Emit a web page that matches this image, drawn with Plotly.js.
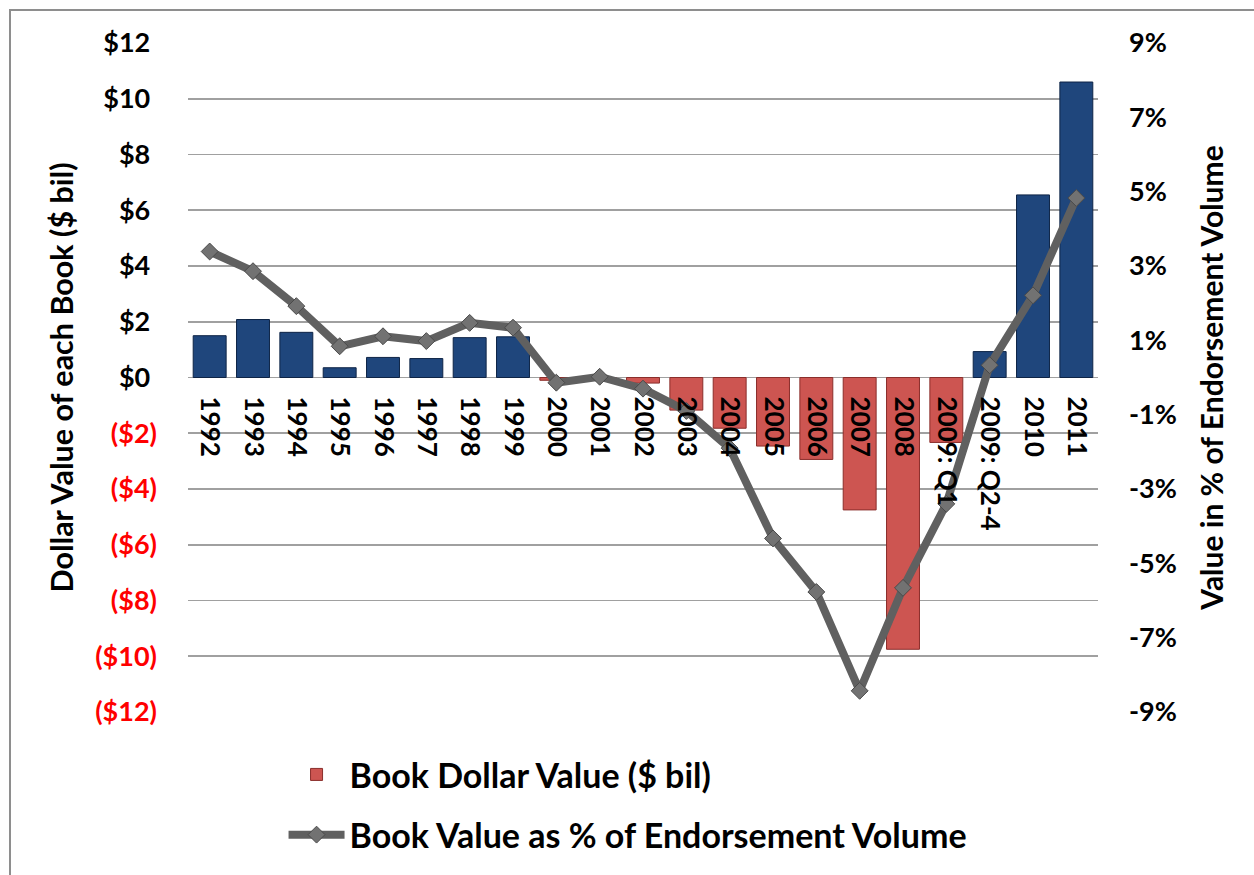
<!DOCTYPE html>
<html>
<head>
<meta charset="utf-8">
<script src="https://cdn.plot.ly/plotly-3.0.1.min.js"></script>
<style>
html,body{margin:0;padding:0;background:#fff;}
#wrap{position:relative;width:1254px;height:875px;overflow:hidden;}
#chart{width:1254px;height:875px;}
#frame{position:absolute;left:9px;top:9px;width:1300px;height:900px;border-left:2px solid #8e8e8e;border-top:2px solid #8e8e8e;pointer-events:none;}
</style>
</head>
<body>
<div id="wrap"><div id="chart"></div><div id="frame"></div></div>
<script>
const categories = ["1992","1993","1994","1995","1996","1997","1998","1999","2000","2001","2002","2003","2004","2005","2006","2007","2008","2009: Q1","2009: Q2-4","2010","2011"];
const bookValue = [1.50,2.08,1.62,0.35,0.72,0.68,1.43,1.46,-0.10,-0.04,-0.20,-1.17,-1.82,-2.46,-2.94,-4.75,-9.75,-2.33,0.93,6.55,10.60];
const pctOfVolume = [3.39,2.86,1.92,0.84,1.11,0.98,1.47,1.34,-0.14,0.02,-0.30,-0.90,-1.90,-4.33,-5.77,-8.43,-5.66,-3.40,0.33,2.21,4.83];
const leftTickVals = [12,10,8,6,4,2,0,-2,-4,-6,-8,-10,-12];
const leftTickText = ["$12","$10","$8","$6","$4","$2","$0","($2)","($4)","($6)","($8)","($10)","($12)"];
const rightTickVals = [9,7,5,3,1,-1,-3,-5,-7,-9];
const rightTickText = ["9%","7%","5%","3%","1%","-1%","-3%","-5%","-7%","-9%"];
const barName = "Book Dollar Value ($ bil)";
const lineName = "Book Value as % of Endorsement Volume";

const FONT = "Lato, 'Open Sans', sans-serif";

const leftLabels = leftTickText.map((t, i) =>
  leftTickVals[i] < 0 ? '<span style="color:#ff0000">' + t + '</span>' : t + '\u2005');

const negVals = bookValue.map(v => v < 0 ? v : null);
const posVals = bookValue.map(v => v >= 0 ? v : null);

const traces = [
  {
    type: 'bar', x: categories, y: negVals, name: barName,
    marker: {color: '#cd5551', line: {color: '#8a2e2b', width: 1}},
    legendgroup: 'a', showlegend: true, hoverinfo: 'x+y'
  },
  {
    type: 'bar', x: categories, y: posVals, name: barName + ' (positive)',
    marker: {color: '#1f467c', line: {color: '#0e2446', width: 1}},
    legendgroup: 'a2', showlegend: false, hoverinfo: 'x+y'
  },
  {
    type: 'scatter', mode: 'lines+markers', x: categories, y: pctOfVolume, yaxis: 'y2',
    name: lineName, legendgroup: 'b',
    line: {color: '#606060', width: 8},
    marker: {symbol: 'diamond', size: 13, color: '#727272', line: {color: '#4a4a4a', width: 1}}
  }
];

const layout = {
  width: 1254, height: 875,
  margin: {l: 188, r: 156, t: 43, b: 162},
  paper_bgcolor: '#ffffff', plot_bgcolor: '#ffffff',
  font: {family: FONT, color: '#000'},
  barmode: 'overlay', bargap: 0.24,
  showlegend: true,
  legend: {
    x: 0.105, y: -0.049, xanchor: 'left', yanchor: 'top',
    font: {family: FONT, size: 34, color: '#000', weight: 'bold'},
    traceorder: 'grouped', tracegroupgap: 13, itemwidth: 56,
    bgcolor: 'rgba(0,0,0,0)'
  },
  xaxis: {
    type: 'category', anchor: 'free', position: 0.5,
    range: [-0.5, categories.length - 0.5],
    showgrid: false, showline: false, ticks: '', zeroline: false,
    tickangle: 90, ticklabelstandoff: 18,
    tickfont: {family: FONT, size: 26, color: '#000', weight: 'bold'},
    automargin: false
  },
  yaxis: {
    range: [-12, 12], tickvals: leftTickVals, ticktext: leftLabels,
    showgrid: true, gridcolor: '#a0a0a0', gridwidth: 1.6,
    zeroline: true, zerolinecolor: '#a0a0a0', zerolinewidth: 1.6,
    showline: false, ticks: '', ticklabelstandoff: 30,
    tickfont: {family: FONT, size: 27, color: '#000', weight: 'bold'},
    title: {text: 'Dollar Value of each Book ($ bil)', font: {family: FONT, size: 30.5, color: '#000', weight: 'bold'}, standoff: 12},
    automargin: false
  },
  yaxis2: {
    overlaying: 'y', side: 'right',
    range: [-9, 9], tickvals: rightTickVals, ticktext: rightTickText,
    showgrid: false, zeroline: false, showline: false, ticks: '', ticklabelstandoff: 30,
    tickfont: {family: FONT, size: 27, color: '#000', weight: 'bold'},
    title: {text: 'Value in % of Endorsement Volume', font: {family: FONT, size: 30, color: '#000', weight: 'bold'}, standoff: 26},
    automargin: false
  }
};

Plotly.newPlot('chart', traces, layout, {displayModeBar: false, staticPlot: true});
</script>
</body>
</html>
